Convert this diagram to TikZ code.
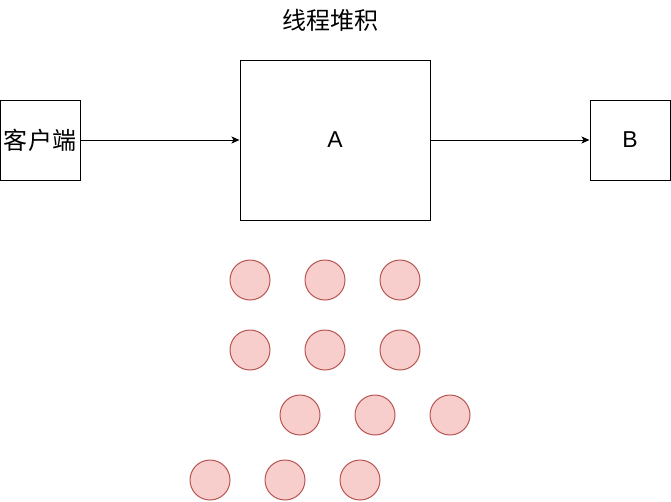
\documentclass[tikz,border=0pt]{standalone}
\usepackage{fontspec}
\setmainfont{Liberation Sans}
\newfontfamily\cjk{Noto Sans CJK SC}
\usetikzlibrary{arrows.meta}
\definecolor{cfill}{HTML}{F8CECC}
\definecolor{cline}{HTML}{B85450}
\begin{document}
\begin{tikzpicture}[x=1pt,y=-1pt,
  boxnode/.style={draw=black,line width=1pt,fill=white,inner sep=0pt,font=\fontsize{23}{26}\selectfont},
  ball/.style={circle,draw=cline,fill=cfill,line width=1pt,minimum size=40pt,inner sep=0pt},
  conn/.style={line width=1pt,-{Stealth[length=8pt,width=7pt,inset=2pt]}}]
\useasboundingbox (0,0) rectangle (671,501);
\node[font=\cjk\fontsize{24}{28}\selectfont] (title) at (330,20) {线程堆积};
\node[boxnode,minimum width=80pt,minimum height=80pt,font=\cjk\fontsize{24}{28}\selectfont] (client) at (40,140) {客户端};
\node[boxnode,minimum width=190pt,minimum height=160pt] (A) at (335,140) {A};
\node[boxnode,minimum width=80pt,minimum height=80pt] (B) at (630,140) {B};
\draw[conn] (client) -- (A);
\draw[conn] (A) -- (B);
\node[ball] (b1) at (250,280) {};
\node[ball] (b2) at (325,280) {};
\node[ball] (b3) at (400,280) {};
\node[ball] (b4) at (250,350) {};
\node[ball] (b5) at (325,350) {};
\node[ball] (b6) at (400,350) {};
\node[ball] (b7) at (300,415) {};
\node[ball] (b8) at (375,415) {};
\node[ball] (b9) at (450,415) {};
\node[ball] (b10) at (210,480) {};
\node[ball] (b11) at (285,480) {};
\node[ball] (b12) at (360,480) {};
\end{tikzpicture}
\end{document}
